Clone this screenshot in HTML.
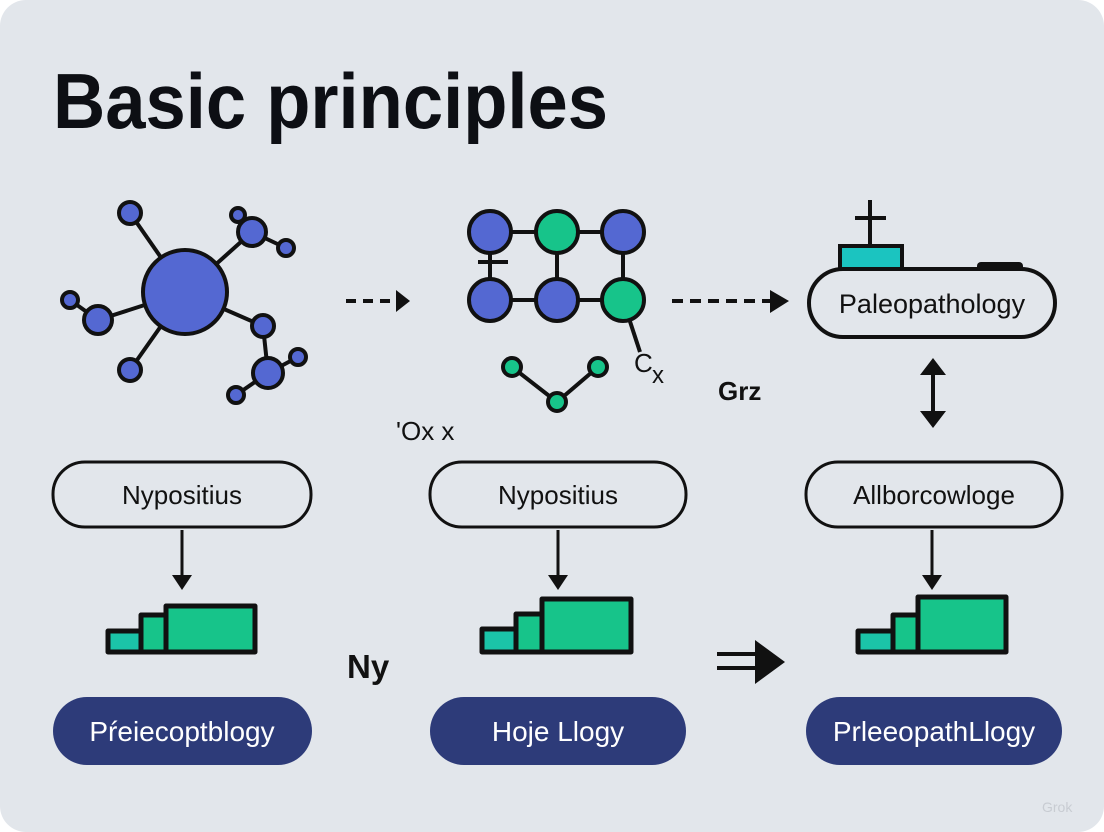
<!DOCTYPE html>
<html><head><meta charset="utf-8"><style>
html,body{margin:0;padding:0;background:#fff;}
svg{display:block;}
text{font-family:"Liberation Sans",sans-serif;}
</style></head><body>
<svg width="1104" height="832" viewBox="0 0 1104 832" xmlns="http://www.w3.org/2000/svg">
<defs>
<marker id="ah" viewBox="0 0 10 10" refX="9" refY="5" markerWidth="4" markerHeight="4" orient="auto"><path d="M0,0L10,5L0,10z" fill="#111"/></marker>
</defs>
<rect x="0" y="0" width="1104" height="832" rx="26" fill="#e2e6eb"/>
<text x="53" y="128" font-size="78" font-weight="bold" fill="#0d0f14" textLength="555" lengthAdjust="spacingAndGlyphs">Basic principles</text>

<!-- molecule 1 -->
<g stroke="#111" stroke-width="4">
<line x1="185" y1="292" x2="130" y2="213"/><line x1="185" y1="292" x2="252" y2="232"/>
<line x1="185" y1="292" x2="98" y2="320"/><line x1="185" y1="292" x2="130" y2="370"/>
<line x1="185" y1="292" x2="263" y2="326"/><line x1="263" y1="326" x2="268" y2="373"/>
<line x1="252" y1="232" x2="238" y2="215"/><line x1="252" y1="232" x2="286" y2="248"/>
<line x1="98" y1="320" x2="70" y2="300"/><line x1="268" y1="373" x2="298" y2="357"/><line x1="268" y1="373" x2="236" y2="395"/>
</g>
<g fill="#5468d2" stroke="#111" stroke-width="4">
<circle cx="185" cy="292" r="42"/><circle cx="130" cy="213" r="11"/><circle cx="252" cy="232" r="14"/>
<circle cx="238" cy="215" r="7"/><circle cx="286" cy="248" r="8"/><circle cx="98" cy="320" r="14"/>
<circle cx="70" cy="300" r="8"/><circle cx="130" cy="370" r="11"/><circle cx="263" cy="326" r="11"/>
<circle cx="268" cy="373" r="15"/><circle cx="298" cy="357" r="8"/><circle cx="236" cy="395" r="8"/>
</g>
<!-- dashed arrow 1 -->
<line x1="346" y1="301" x2="396" y2="301" stroke="#111" stroke-width="4" stroke-dasharray="10,7"/>
<path d="M396,290L410,301L396,312z" fill="#111"/>

<!-- grid molecule -->
<g stroke="#111" stroke-width="4">
<line x1="490" y1="232" x2="623" y2="232"/><line x1="490" y1="300" x2="623" y2="300"/>
<line x1="490" y1="232" x2="490" y2="300"/><line x1="557" y1="232" x2="557" y2="300"/><line x1="623" y1="232" x2="623" y2="300"/>
<line x1="478" y1="262" x2="508" y2="262"/><line x1="623" y1="300" x2="640" y2="352"/>
<line x1="512" y1="367" x2="557" y2="402"/><line x1="598" y1="367" x2="557" y2="402"/>
</g>
<g stroke="#111" stroke-width="4">
<circle cx="490" cy="232" r="21" fill="#5468d2"/><circle cx="557" cy="232" r="21" fill="#17c48a"/><circle cx="623" cy="232" r="21" fill="#5468d2"/>
<circle cx="490" cy="300" r="21" fill="#5468d2"/><circle cx="557" cy="300" r="21" fill="#5468d2"/><circle cx="623" cy="300" r="21" fill="#17c48a"/>
<circle cx="512" cy="367" r="9" fill="#17c48a"/><circle cx="557" cy="402" r="9" fill="#17c48a"/><circle cx="598" cy="367" r="9" fill="#17c48a"/>
</g>
<text x="634" y="372" font-size="26" fill="#111">C</text><text x="652" y="383" font-size="24" fill="#111">x</text>
<text x="396" y="440" font-size="26" fill="#111">'Ox x</text>

<!-- dashed arrow 2 -->
<line x1="672" y1="301" x2="772" y2="301" stroke="#111" stroke-width="4" stroke-dasharray="11,7"/>
<path d="M770,290L789,301L770,313z" fill="#111"/>

<!-- Paleopathology -->
<line x1="870" y1="200" x2="870" y2="246" stroke="#111" stroke-width="4"/>
<line x1="855" y1="218" x2="886" y2="218" stroke="#111" stroke-width="4"/>
<rect x="840" y="246" width="62" height="24" fill="#1bc4c0" stroke="#111" stroke-width="4"/>
<rect x="977" y="262" width="46" height="9" rx="4" fill="#111"/>
<rect x="809" y="269" width="246" height="68" rx="34" fill="#e2e6eb" stroke="#111" stroke-width="4"/>
<text x="932" y="313" font-size="27" fill="#111" text-anchor="middle">Paleopathology</text>
<text x="718" y="400" font-size="26" font-weight="bold" fill="#111">Grz</text>
<line x1="933" y1="372" x2="933" y2="414" stroke="#111" stroke-width="4"/>
<path d="M920,375L933,358L946,375z M920,411L933,428L946,411z" fill="#111"/>

<!-- outlined pills -->
<g fill="#e2e6eb" stroke="#111" stroke-width="3">
<rect x="53" y="462" width="258" height="65" rx="32"/>
<rect x="430" y="462" width="256" height="65" rx="32"/>
<rect x="806" y="462" width="256" height="65" rx="32"/>
</g>
<g font-size="26" fill="#111" text-anchor="middle">
<text x="182" y="504">Nypositius</text>
<text x="558" y="504">Nypositius</text>
<text x="934" y="504">Allborcowloge</text>
</g>
<!-- down arrows -->
<g stroke="#111" stroke-width="3">
<line x1="182" y1="530" x2="182" y2="578"/><line x1="558" y1="530" x2="558" y2="578"/><line x1="932" y1="530" x2="932" y2="578"/>
</g>
<g fill="#111">
<path d="M172,575L182,590L192,575z"/><path d="M548,575L558,590L568,575z"/><path d="M922,575L932,590L942,575z"/>
</g>
<!-- bar charts -->
<g stroke="#111" stroke-width="5" stroke-linejoin="round">
<rect x="108" y="631" width="33" height="21" fill="#1bc4a8"/><rect x="141" y="615" width="25" height="37" fill="#17c48a"/><path d="M166,630V606H255V652H166z" fill="#17c48a"/>
<rect x="482" y="629" width="34" height="23" fill="#1bc4a8"/><rect x="516" y="614" width="26" height="38" fill="#17c48a"/><path d="M542,624V599H631V652H542z" fill="#17c48a"/>
<rect x="858" y="631" width="35" height="21" fill="#1bc4a8"/><rect x="893" y="615" width="25" height="37" fill="#17c48a"/><path d="M918,625V597H1006V652H918z" fill="#17c48a"/>
</g>
<text x="347" y="678" font-size="33" font-weight="bold" fill="#111">Ny</text>
<g stroke="#111" stroke-width="4"><line x1="717" y1="654" x2="760" y2="654"/><line x1="717" y1="668" x2="760" y2="668"/></g>
<path d="M755,640L785,662L755,684z" fill="#111"/>

<!-- dark pills -->
<g fill="#2d3b79">
<rect x="53" y="697" width="259" height="68" rx="34"/>
<rect x="430" y="697" width="256" height="68" rx="34"/>
<rect x="806" y="697" width="256" height="68" rx="34"/>
</g>
<g font-size="28" fill="#fff" text-anchor="middle">
<text x="182" y="741">Pŕeiecoptblogy</text>
<text x="558" y="741">Hoje Llogy</text>
<text x="934" y="741">PrleeopathLlogy</text>
</g>
<text x="1042" y="812" font-size="14" fill="#c8ccd2">Grok</text>
</svg>
</body></html>
